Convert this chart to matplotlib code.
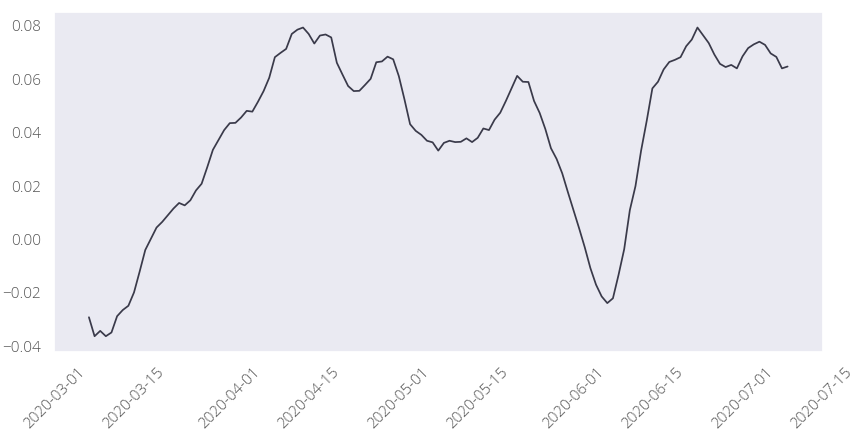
import numpy as np
import pandas as pd
import matplotlib
matplotlib.use('Agg')
import matplotlib.pyplot as plt
import seaborn as sns

# daily values, 2020-03-07 .. 2020-07-09
dates = pd.date_range('2020-03-07', '2020-07-09', freq='D')
values = [
    -0.0291, -0.0362, -0.0342, -0.0362, -0.0348,
    -0.0287, -0.0264, -0.0248, -0.0198, -0.0120, -0.0039, 0.0003, 0.0045,
    0.0066, 0.0091, 0.0116, 0.0137, 0.0128, 0.0147, 0.0184, 0.0209,
    0.0271, 0.0336, 0.0373, 0.0410, 0.0436, 0.0437, 0.0457, 0.0482,
    0.0479, 0.0516, 0.0556, 0.0606, 0.0683, 0.0699, 0.0714, 0.0770,
    0.0786, 0.0794, 0.0770, 0.0734, 0.0764, 0.0768, 0.0757, 0.0662,
    0.0618, 0.0575, 0.0556, 0.0557, 0.0579, 0.0602, 0.0664, 0.0667,
    0.0685, 0.0675, 0.0612, 0.0525, 0.0432, 0.0407, 0.0392, 0.0370,
    0.0364, 0.0333, 0.0362, 0.0370, 0.0365, 0.0366, 0.0379, 0.0365,
    0.0381, 0.0416, 0.0410, 0.0449, 0.0475, 0.0519, 0.0566, 0.0613,
    0.0591, 0.0590, 0.0519, 0.0474, 0.0414, 0.0342, 0.0302, 0.0248,
    0.0178, 0.0110, 0.0042, -0.0029, -0.0107, -0.0169, -0.0213, -0.0238,
    -0.0220, -0.0132, -0.0036, 0.0110, 0.0200, 0.0333, 0.0445, 0.0566,
    0.0591, 0.0637, 0.0665, 0.0673, 0.0683, 0.0724, 0.0749, 0.0794,
    0.0765, 0.0736, 0.0693, 0.0658, 0.0646, 0.0654, 0.0641, 0.0686,
    0.0717, 0.0731, 0.0741, 0.0729, 0.0697, 0.0684, 0.0641, 0.0648,
]

sns.set_theme(style='dark', context='notebook')
plt.rcParams['font.family'] = ['Open Sans', 'DejaVu Sans']

fig, ax = plt.subplots(figsize=(8.64, 4.32), dpi=100)
ax.plot(dates, values, color='#3a3a4a', linewidth=1.25)

ax.tick_params(labelsize=11, labelcolor='#555555')
for lab in ax.get_xticklabels() + ax.get_yticklabels():
    lab.set_fontweight('light')
plt.xticks(rotation=45)

plt.subplots_adjust(left=0.0625, right=0.952, top=0.972, bottom=0.186)
plt.savefig('out.png')
